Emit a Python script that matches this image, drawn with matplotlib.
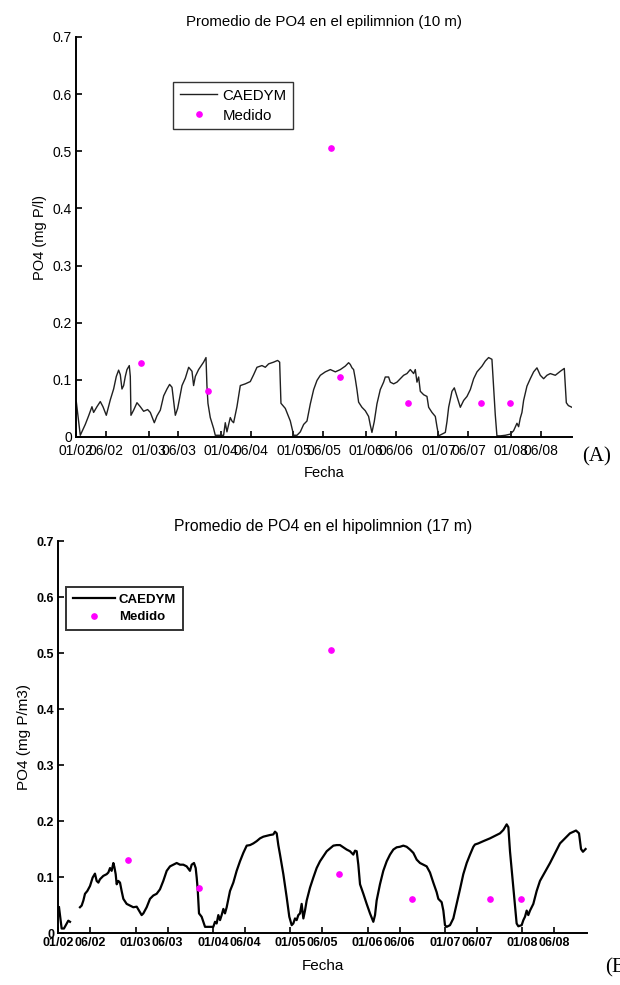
import numpy as np
import matplotlib
matplotlib.use("Agg")
import matplotlib.pyplot as plt
from matplotlib.ticker import FixedLocator, FixedFormatter

plt.rcParams['font.family'] = ['Liberation Sans', 'DejaVu Sans']

# ---- data: time in years since 01/01/2002 ----
epi_t = [0.004, 0.059, 0.128, 0.174, 0.220, 0.243, 0.289, 0.335, 0.372, 0.418, 0.473, 0.519, 0.556, 0.588,
         0.611, 0.634, 0.657, 0.680, 0.703, 0.735, 0.749, 0.758, 0.795, 0.841, 0.887, 0.933, 0.988, 1.025,
         1.080, 1.117, 1.163, 1.209, 1.255, 1.291, 1.324, 1.370, 1.402, 1.462, 1.508, 1.554, 1.600, 1.622,
         1.646, 1.691, 1.760, 1.793, 1.806, 1.820, 1.852, 1.898, 1.921, 1.967, 2.036, 2.059, 2.082, 2.128,
         2.151, 2.174, 2.220, 2.266, 2.335, 2.404, 2.450, 2.496, 2.565, 2.611, 2.657, 2.726, 2.781, 2.809,
         2.827, 2.887, 2.956, 3.002, 3.048, 3.094, 3.140, 3.186, 3.232, 3.278, 3.324, 3.370, 3.439, 3.508,
         3.577, 3.646, 3.714, 3.760, 3.783, 3.807, 3.829, 3.852, 3.875, 3.898, 3.944, 3.990, 4.036, 4.059,
         4.082, 4.114, 4.151, 4.197, 4.243, 4.266, 4.312, 4.335, 4.381, 4.427, 4.473, 4.519, 4.565, 4.611,
         4.657, 4.680, 4.703, 4.726, 4.749, 4.795, 4.841, 4.864, 4.910, 4.956, 4.979, 5.002, 5.048, 5.094,
         5.117, 5.140, 5.186, 5.218, 5.255, 5.301, 5.347, 5.393, 5.439, 5.485, 5.531, 5.600, 5.646, 5.691,
         5.737, 5.760, 5.783, 5.806, 5.852, 5.921, 5.990, 6.036, 6.082, 6.105, 6.128, 6.151, 6.174, 6.220,
         6.266, 6.312, 6.358, 6.404, 6.450, 6.496, 6.542, 6.611, 6.680, 6.735, 6.763, 6.791, 6.840]
epi_po4 = [0.062, 0.003, 0.022, 0.037, 0.053, 0.043, 0.053, 0.062, 0.053, 0.038, 0.065, 0.084, 0.106, 0.117,
           0.109, 0.084, 0.090, 0.106, 0.118, 0.125, 0.106, 0.038, 0.047, 0.060, 0.053, 0.045, 0.048, 0.043,
           0.025, 0.037, 0.047, 0.072, 0.084, 0.092, 0.087, 0.038, 0.050, 0.090, 0.103, 0.122, 0.115, 0.090,
           0.106, 0.118, 0.131, 0.139, 0.090, 0.059, 0.034, 0.015, 0.003, 0.003, 0.003, 0.025, 0.009, 0.034,
           0.028, 0.025, 0.053, 0.090, 0.093, 0.097, 0.109, 0.122, 0.125, 0.122, 0.128, 0.131, 0.134, 0.131,
           0.059, 0.050, 0.028, 0.003, 0.003, 0.009, 0.022, 0.028, 0.058, 0.083, 0.099, 0.108, 0.114, 0.118,
           0.114, 0.118, 0.124, 0.130, 0.127, 0.121, 0.118, 0.102, 0.083, 0.061, 0.052, 0.046, 0.036, 0.021,
           0.008, 0.027, 0.058, 0.083, 0.096, 0.105, 0.105, 0.096, 0.093, 0.096, 0.102, 0.108, 0.111, 0.118,
           0.111, 0.118, 0.096, 0.105, 0.080, 0.074, 0.071, 0.052, 0.043, 0.036, 0.018, 0.002, 0.005, 0.008,
           0.027, 0.052, 0.080, 0.086, 0.071, 0.052, 0.064, 0.071, 0.083, 0.102, 0.114, 0.124, 0.133, 0.139,
           0.136, 0.089, 0.039, 0.002, 0.002, 0.003, 0.005, 0.011, 0.024, 0.018, 0.033, 0.043, 0.064, 0.089,
           0.102, 0.114, 0.121, 0.108, 0.102, 0.108, 0.111, 0.108, 0.115, 0.120, 0.060, 0.055, 0.052]

hipo_t = [0.008, 0.021, 0.042, 0.072, 0.107, 0.128, 0.150, np.nan,
          0.279, 0.301, 0.323, 0.344, 0.374, 0.409, 0.443, 0.473, 0.495, 0.517, 0.538, 0.581, 0.624, 0.646,
          0.668, 0.689, 0.711, 0.724, 0.741, 0.754, 0.775, 0.797, 0.818, 0.840, 0.883, 0.926, 0.969, 1.013,
          1.056, 1.077, 1.099, 1.142, 1.185, 1.228, 1.271, 1.314, 1.357, 1.401, 1.444, 1.487, 1.530, 1.573,
          1.616, 1.659, 1.702, 1.724, 1.754, 1.776, 1.789, 1.802, 1.819, 1.853, 1.875, 1.897, 1.918, 1.961,
          2.004, 2.026, 2.047, 2.069, 2.091, 2.112, 2.134, 2.155, 2.177, 2.220, 2.263, 2.306, 2.349, 2.392,
          2.436, 2.479, 2.522, 2.565, 2.608, 2.651, 2.737, 2.780, 2.802, 2.824, 2.845, 2.867, 2.910, 2.953,
          2.987, 3.018, 3.039, 3.061, 3.082, 3.104, 3.126, 3.147, 3.169, 3.190, 3.212, 3.255, 3.298, 3.341,
          3.384, 3.427, 3.471, 3.514, 3.557, 3.600, 3.643, 3.686, 3.729, 3.772, 3.815, 3.837, 3.859, 3.880,
          3.902, 3.945, 3.988, 4.031, 4.074, 4.096, 4.117, 4.160, 4.203, 4.247, 4.290, 4.333, 4.376, 4.419,
          4.462, 4.505, 4.549, 4.592, 4.635, 4.678, 4.721, 4.764, 4.807, 4.850, 4.893, 4.915, 4.937, 4.958,
          4.980, 5.001, 5.023, 5.066, 5.109, 5.152, 5.195, 5.238, 5.282, 5.325, 5.368, 5.389, 5.432, 5.497,
          5.583, 5.670, 5.713, 5.756, 5.799, 5.821, 5.842, 5.885, 5.928, 5.950, 5.993, 6.015, 6.036, 6.058,
          6.079, 6.101, 6.122, 6.144, 6.187, 6.230, 6.360, 6.489, 6.618, 6.696, 6.735, 6.761, 6.786, 6.820]
hipo_po4 = [0.046, 0.032, 0.008, 0.008, 0.017, 0.022, 0.020, np.nan,
            0.046, 0.049, 0.058, 0.070, 0.075, 0.084, 0.099, 0.106, 0.093, 0.090, 0.096, 0.102, 0.105, 0.108,
            0.116, 0.111, 0.125, 0.118, 0.105, 0.087, 0.093, 0.090, 0.075, 0.061, 0.052, 0.049, 0.046, 0.047,
            0.037, 0.032, 0.035, 0.046, 0.061, 0.067, 0.070, 0.078, 0.093, 0.111, 0.119, 0.122, 0.125, 0.122,
            0.122, 0.119, 0.111, 0.122, 0.125, 0.116, 0.099, 0.078, 0.035, 0.029, 0.020, 0.011, 0.011, 0.011,
            0.011, 0.020, 0.017, 0.032, 0.023, 0.032, 0.043, 0.035, 0.046, 0.075, 0.090, 0.111, 0.128, 0.143,
            0.156, 0.157, 0.160, 0.164, 0.169, 0.172, 0.175, 0.176, 0.181, 0.178, 0.157, 0.140, 0.105, 0.064,
            0.029, 0.014, 0.017, 0.026, 0.023, 0.032, 0.035, 0.052, 0.026, 0.040, 0.058, 0.081, 0.099, 0.116,
            0.128, 0.137, 0.146, 0.151, 0.156, 0.157, 0.157, 0.153, 0.149, 0.146, 0.140, 0.147, 0.146, 0.122,
            0.087, 0.070, 0.052, 0.035, 0.020, 0.032, 0.058, 0.087, 0.111, 0.128, 0.140, 0.149, 0.153, 0.154,
            0.156, 0.154, 0.149, 0.143, 0.131, 0.125, 0.122, 0.119, 0.108, 0.090, 0.073, 0.061, 0.058, 0.055,
            0.040, 0.014, 0.011, 0.014, 0.026, 0.052, 0.078, 0.105, 0.125, 0.140, 0.154, 0.158, 0.160, 0.164,
            0.169, 0.175, 0.178, 0.184, 0.194, 0.189, 0.146, 0.081, 0.017, 0.012, 0.014, 0.023, 0.029, 0.040,
            0.032, 0.040, 0.046, 0.052, 0.075, 0.093, 0.125, 0.160, 0.178, 0.183, 0.178, 0.150, 0.145, 0.150]

med_t = [0.900, 1.815, 3.522, 3.636, 4.576, 5.584, 5.990]
med_po4 = [0.13, 0.08, 0.505, 0.105, 0.06, 0.06, 0.06]

years = [2, 3, 4, 5, 6, 7, 8]
xtick_pos = []
xtick_labels = []
for i, yy in enumerate(years):
    xtick_pos += [i, i + 151 / 365.0]
    xtick_labels += ["01/%02d" % yy, "06/%02d" % yy]
ytick_vals = [0, 0.1, 0.2, 0.3, 0.4, 0.5, 0.6, 0.7]
ytick_labels = ["0", "0.1", "0.2", "0.3", "0.4", "0.5", "0.6", "0.7"]

titles = ["Promedio de PO4 en el epilimnion (10 m)", "Promedio de PO4 en el hipolimnion (17 m)"]
ylabels = ["PO4 (mg P/l)", "PO4 (mg P/m3)"]

W, H = 620, 985
fig = plt.figure(figsize=(W / 100, H / 100), dpi=100)
XMAX = 6.84

ax1 = fig.add_axes([76 / W, 1 - 437 / H, (XMAX * 72.5) / W, 400 / H])
ax2 = fig.add_axes([58.4 / W, 1 - 933 / H, (XMAX * 77.3) / W, 392 / H])


def style(ax, tick_fs, tick_w, xpad):
    ax.set_xlim(0, XMAX)
    ax.set_ylim(0, 0.7)
    for s in ['top', 'right']:
        ax.spines[s].set_visible(False)
    for s in ['left', 'bottom']:
        ax.spines[s].set_linewidth(1.4)
    ax.xaxis.set_major_locator(FixedLocator(xtick_pos))
    ax.xaxis.set_major_formatter(FixedFormatter(xtick_labels))
    ax.yaxis.set_major_locator(FixedLocator(ytick_vals))
    ax.yaxis.set_major_formatter(FixedFormatter(ytick_labels))
    ax.tick_params(direction='in', length=4.5, width=1.2, labelsize=tick_fs, colors='black')
    ax.tick_params(axis='x', pad=xpad)
    ax.tick_params(axis='y', pad=3)
    for lab in ax.get_xticklabels() + ax.get_yticklabels():
        lab.set_fontweight(tick_w)


# top panel
ax1.plot(epi_t, epi_po4, color='#202020', lw=1.0, label='CAEDYM')
ax1.plot(med_t, med_po4, ls='none', marker='o', ms=3.8, color='#ff00ff', mec='#ff00ff', label='Medido')
style(ax1, 10, 'normal', 5)
ax1.set_title(titles[0], fontsize=10.8, pad=8)
ax1.set_ylabel(ylabels[0], fontsize=10.5, labelpad=4)
ax1.set_xlabel("Fecha", fontsize=10.5, labelpad=6)
leg1 = ax1.legend(loc='upper left', bbox_to_anchor=(173 / W, 1 - 82 / H), bbox_transform=fig.transFigure,
                  fontsize=10.8, frameon=True, fancybox=False, borderaxespad=0, handlelength=2.5,
                  handletextpad=0.35, borderpad=0.45, labelspacing=0.4, numpoints=1)
leg1.get_frame().set_edgecolor('black')
leg1.get_frame().set_linewidth(1.0)

# bottom panel
ax2.plot(hipo_t, hipo_po4, color='black', lw=1.6, label='CAEDYM')
ax2.plot(med_t, med_po4, ls='none', marker='o', ms=3.8, color='#ff00ff', mec='#ff00ff', label='Medido')
style(ax2, 9, 'bold', 3)
ax2.set_title(titles[1], fontsize=11.3, pad=7)
ax2.set_ylabel(ylabels[1], fontsize=11, labelpad=4)
ax2.set_xlabel("Fecha", fontsize=11, labelpad=7)
leg2 = ax2.legend(loc='upper left', bbox_to_anchor=(66 / W, 1 - 587 / H), bbox_transform=fig.transFigure,
                  prop={'size': 9.5, 'weight': 'bold'}, frameon=True, fancybox=False, borderaxespad=0,
                  handlelength=3.2, handletextpad=0.3, borderpad=0.5, labelspacing=0.4, numpoints=1)
leg2.get_frame().set_edgecolor('black')
leg2.get_frame().set_linewidth(1.4)

fig.text(582 / W, 1 - 457 / H, "(A)", family=['Liberation Serif', 'DejaVu Serif'], fontsize=15, va='center')
fig.text(605 / W, 1 - 968 / H, "(B)", family=['Liberation Serif', 'DejaVu Serif'], fontsize=15, va='center')

fig.savefig("out.png", dpi=100)
